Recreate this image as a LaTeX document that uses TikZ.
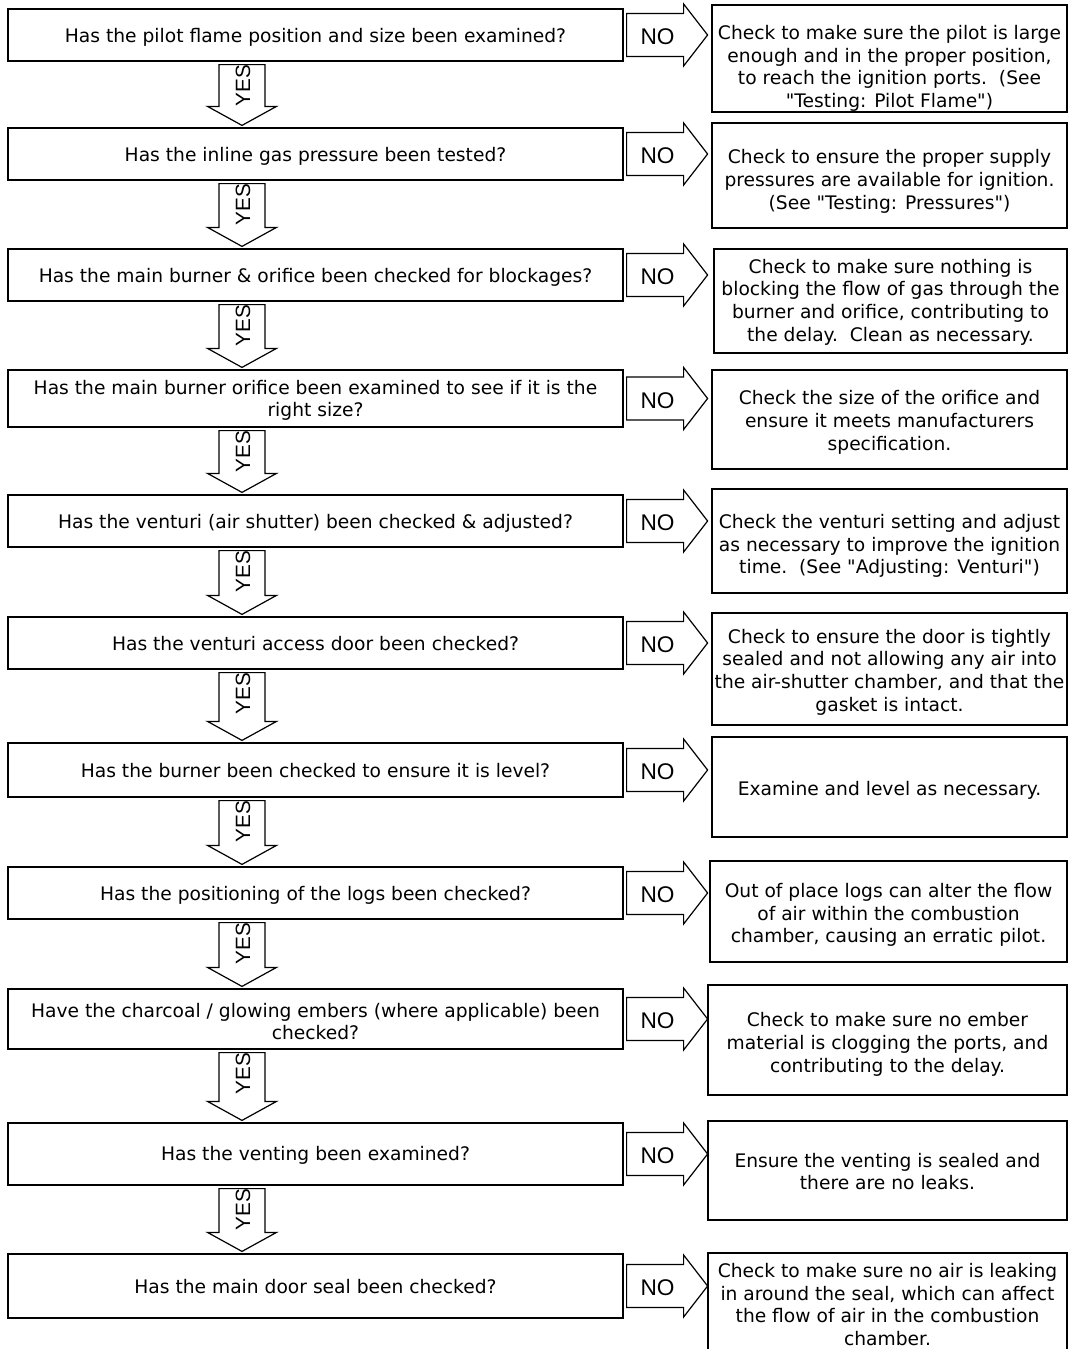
\documentclass[tikz,border=0pt]{standalone}
\usepackage{fontspec}
\setmainfont{DejaVu Sans}[Ligatures=TeXOff]
\newfontfamily\labelfont{Liberation Sans}
\usetikzlibrary{calc}

% question box: name, centre x, centre y, height, text shift, text
\newcommand\qbox[6]{%
  \node[question, boxsize={615}{#4}] (#1) at (#2,#3) {};
  \node[qtext] (#1-t) at ($(#1.center)+(0,#5)$) {#6};
}
% remedy box: name, centre x, centre y, width, height, text shift, text
\newcommand\rbox[7]{%
  \node[answer, boxsize={#4}{#5}] (#1) at (#2,#3) {};
  \node[atext] (#1-t) at ($(#1.center)+(0,#6)$) {#7};
}
% right-pointing block arrow leaving a question box, with its "NO" label
\newcommand\noarrow[3]{%
  \path ($(#1.east)+(3,0)$) coordinate (#3-t);
  \draw[blockarrow] ($(#3-t)+(0,-21.5)$) -- ($(#3-t)+(57,-21.5)$)
    -- ($(#3-t)+(57,-31)$) -- ($(#3-t)+(81,0)$) -- ($(#3-t)+(57,31)$)
    -- ($(#3-t)+(57,21.5)$) -- ($(#3-t)+(0,21.5)$) -- cycle;
  \node[nolabel] (#3) at ($(#3-t)+(31,2)$) {NO};
}
% downward block arrow between two question boxes, with its "YES" label
\newcommand\yesarrow[3]{%
  \path ($(#1.south -| yescol)+(0,3)$) coordinate (#3-a);
  \path ($(#2.north -| yescol)+(0,-2)$) coordinate (#3-b);
  \draw[blockarrow] ($(#3-a)+(-23,0)$) -- ($(#3-b)+(-23,-19)$)
    -- ($(#3-b)+(-34.5,-19)$) -- (#3-b) -- ($(#3-b)+(34.5,-19)$)
    -- ($(#3-b)+(23,-19)$) -- ($(#3-a)+(23,0)$) -- cycle;
  \node[yeslabel, rotate=90] (#3) at ($(#3-a)+(1,21)$) {YES};
}

\begin{document}
\begin{tikzpicture}[x=0.75pt,y=-0.75pt,
  boxsize/.style 2 args={minimum width={#1*0.75pt}, minimum height={#2*0.75pt}},
  question/.style={draw=black, line width=0.9pt, inner sep=0pt},
  answer/.style={draw=black, line width=0.9pt, inner sep=0pt},
  qtext/.style={inner sep=0pt, align=center, font=\fontsize{14}{16.6}\selectfont},
  atext/.style={inner sep=0pt, align=center, font=\fontsize{14}{17}\selectfont},
  blockarrow/.style={draw=black, line width=0.9pt, fill=white, line join=miter},
  nolabel/.style={inner sep=0pt, font=\labelfont\fontsize{17}{20}\selectfont},
  yeslabel/.style={inner sep=0pt, font=\labelfont\fontsize{15.5}{18}\selectfont}]

\clip (0,0) rectangle (1069,1349);
\fill[white] (0,0) rectangle (1069,1349);
\coordinate (yescol) at (242,0);

% questions
\qbox{q1}{315.5}{35}{52}{2}{Has the pilot flame position and size been examined?}
\qbox{q2}{315.5}{154}{52}{2.5}{Has the inline gas pressure been tested?}
\qbox{q3}{315.5}{275}{52}{2.5}{Has the main burner \& orifice been checked for blockages?}
\qbox{q4}{315.5}{398.5}{57}{2}{Has the main burner orifice been examined to see if it is the\\right size?}
\qbox{q5}{315.5}{521}{52}{2}{Has the venturi (air shutter) been checked \& adjusted?}
\qbox{q6}{315.5}{643}{52}{1}{Has the venturi access door been checked?}
\qbox{q7}{315.5}{770}{54}{1}{Has the burner been checked to ensure it is level?}
\qbox{q8}{315.5}{893}{52}{2}{Has the positioning of the logs been checked?}
\qbox{q9}{315.5}{1019}{60}{2.5}{Have the charcoal / glowing embers (where applicable) been\\checked?}
\qbox{q10}{315.5}{1154}{62}{1}{Has the venting been examined?}
\qbox{q11}{315.5}{1286}{64}{0.5}{Has the main door seal been checked?}

% remedies
\rbox{r1}{889.5}{58.5}{355}{107}{10}{Check to make sure the pilot is large\\enough and in the proper position,\\to reach the ignition ports.\ \ (See\\"Testing: Pilot Flame")}
\rbox{r2}{889.5}{175.5}{355}{105}{6}{Check to ensure the proper supply\\pressures are available for ignition.\\(See "Testing: Pressures")}
\rbox{r3}{890.5}{301}{353}{104}{1}{Check to make sure nothing is\\blocking the flow of gas through the\\burner and orifice, contributing to\\the delay.\ \ Clean as necessary.}
\rbox{r4}{889.5}{419.5}{355}{99}{3}{Check the size of the orifice and\\ensure it meets manufacturers\\specification.}
\rbox{r5}{889.5}{541}{355}{104}{5}{Check the venturi setting and adjust\\as necessary to improve the ignition\\time.\ \ (See "Adjusting: Venturi")}
\rbox{r6}{889.5}{669}{355}{112}{3}{Check to ensure the door is tightly\\sealed and not allowing any air into\\the air-shutter chamber, and that the\\gasket is intact.}
\rbox{r7}{889.5}{787}{355}{100}{3}{Examine and level as necessary.}
\rbox{r8}{888.5}{911.5}{357}{101}{3.5}{Out of place logs can alter the flow\\of air within the combustion\\chamber, causing an erratic pilot.}
\rbox{r9}{887.5}{1040}{359}{110}{4.5}{Check to make sure no ember\\material is clogging the ports, and\\contributing to the delay.}
\rbox{r10}{887.5}{1170.5}{359}{99}{1}{Ensure the venting is sealed and\\there are no leaks.}
\rbox{r11}{887.5}{1303}{359}{100}{1.5}{Check to make sure no air is leaking\\in around the seal, which can affect\\the flow of air in the combustion\\chamber.}

% NO branches
\noarrow{q1}{r1}{no1}
\noarrow{q2}{r2}{no2}
\noarrow{q3}{r3}{no3}
\noarrow{q4}{r4}{no4}
\noarrow{q5}{r5}{no5}
\noarrow{q6}{r6}{no6}
\noarrow{q7}{r7}{no7}
\noarrow{q8}{r8}{no8}
\noarrow{q9}{r9}{no9}
\noarrow{q10}{r10}{no10}
\noarrow{q11}{r11}{no11}

% YES branches
\yesarrow{q1}{q2}{yes1}
\yesarrow{q2}{q3}{yes2}
\yesarrow{q3}{q4}{yes3}
\yesarrow{q4}{q5}{yes4}
\yesarrow{q5}{q6}{yes5}
\yesarrow{q6}{q7}{yes6}
\yesarrow{q7}{q8}{yes7}
\yesarrow{q8}{q9}{yes8}
\yesarrow{q9}{q10}{yes9}
\yesarrow{q10}{q11}{yes10}
\end{tikzpicture}
\end{document}
